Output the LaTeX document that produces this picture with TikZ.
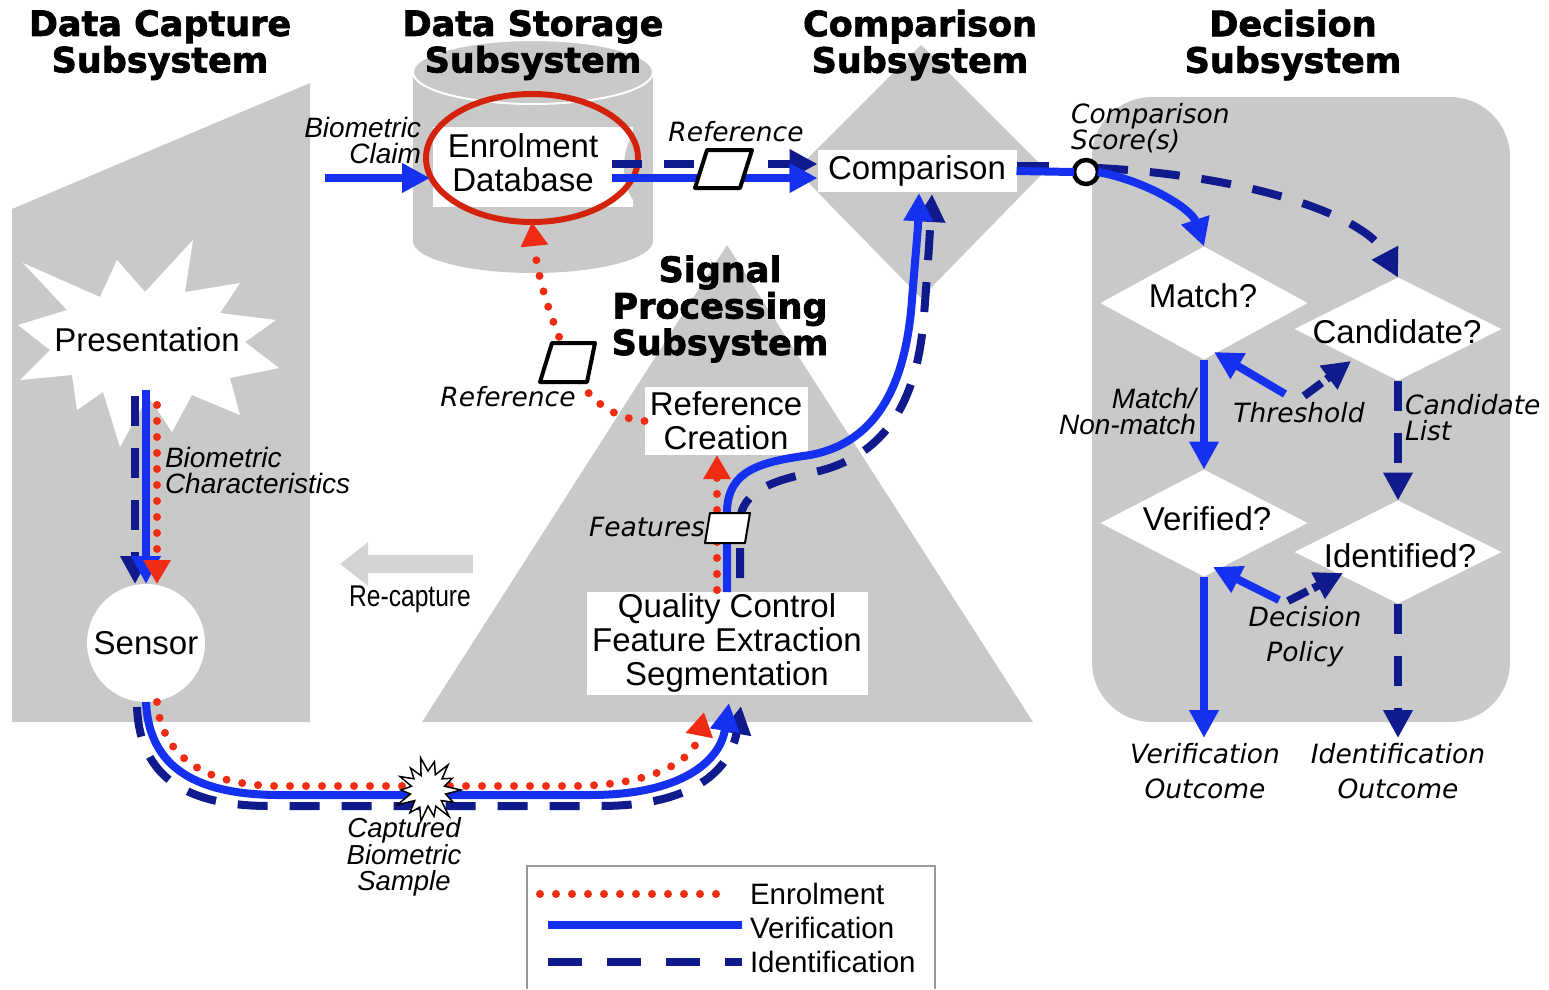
\documentclass[tikz,border=0pt]{standalone}
\usepackage{fontspec}
\setmainfont{Liberation Sans}
\newfontfamily\titlefont{DejaVu Sans}[BoldFeatures={FakeBold=2}]
\newfontfamily\vfont{DejaVu Sans}
\newfontfamily\narrowfont{Liberation Sans}[FakeStretch=0.82]
\usetikzlibrary{arrows.meta,shapes.geometric}
\definecolor{sgray}{RGB}{201,201,201}
\definecolor{vblue}{RGB}{22,48,240}
\definecolor{inavy}{RGB}{16,26,140}
\definecolor{ered}{RGB}{240,45,20}
\definecolor{dbred}{RGB}{212,35,12}
\definecolor{rcgray}{RGB}{212,212,212}
\begin{document}
\begin{tikzpicture}[x=1pt,y=-1pt,
  every node/.style={inner sep=0pt, outer sep=0pt},
  main/.style={font=\fontsize{33}{34}\selectfont, align=center},
  title/.style={font=\titlefont\bfseries\fontsize{35}{36.5}\selectfont, align=center},
  ilab/.style={font=\itshape\fontsize{28}{26}\selectfont},
  vlab/.style={font=\vfont\itshape\fontsize{26.5}{26}\selectfont},
  vlabb/.style={font=\vfont\itshape\fontsize{26.5}{35}\selectfont, align=center},
  capl/.style={font=\itshape\fontsize{27.5}{26.5}\selectfont, align=center},
  narrowl/.style={font=\narrowfont\fontsize{30}{30}\selectfont},
  legl/.style={font=\fontsize{29.5}{30}\selectfont},
  wbox/.style={main, fill=white},
  dmd/.style={diamond, fill=white, inner sep=0pt},
  ver/.style={draw=vblue, line width=8pt},
  ide/.style={draw=inavy, line width=8pt, dash pattern=on 30pt off 22pt},
  enr/.style={draw=ered, line width=8pt, line cap=round, dash pattern=on 0pt off 16pt},
  vtip/.style={-{Triangle[length=28pt,width=28pt]}},
  etip/.style={-{Triangle[length=24pt,width=26pt]}},
  para/.style={draw=black, fill=white, line width=4pt, line join=round},
]
\useasboundingbox (0,0) rectangle (1549,989);

% ---------- grey subsystem shapes ----------
\fill[sgray] (12,209) -- (310,83) -- (310,722) -- (12,722) -- cycle;
\fill[sgray] (413,72) rectangle (653,241);
\fill[sgray] (533,241) ellipse[x radius=120, y radius=32];
\filldraw[fill=sgray, draw=white, line width=2pt] (533,72) ellipse[x radius=120, y radius=32];
\fill[sgray] (921,45) -- (1046,170) -- (921,298) -- (796,170) -- cycle;
\fill[sgray] (727,245) -- (1033,722) -- (422,722) -- cycle;
\fill[sgray, rounded corners=60pt] (1092,97) rectangle (1510,722);

% database label area
\fill[white] (433,127) rectangle (633,207);
\begin{scope}
  \clip (433,127) rectangle (633,207);
  \fill[sgray] (648,167) ellipse[x radius=24, y radius=42];
\end{scope}

% presentation starburst
\fill[white] (23,263) -- (100,297) -- (117,260) -- (145,292) -- (193,240) -- (185,292)
  -- (240,283) -- (220,313) -- (276,320) -- (245,342) -- (279,368) -- (230,378)
  -- (240,415) -- (192,395) -- (172,432) -- (148,396) -- (120,447) -- (103,392)
  -- (77,410) -- (72,375) -- (20,380) -- (50,350) -- (18,325) -- (67,310) -- cycle;

% ---------- nodes ----------
\node[main] (pres) at (147,340) {Presentation};
\node[main, circle, fill=white, minimum size=118pt] (sensor) at (146,643) {Sensor};
\node[main] (db) at (523,163) {Enrolment\\Database};
\node[draw=dbred, line width=6pt, ellipse, minimum width=212pt, minimum height=128pt] (dbring) at (532,158) {};
\node[wbox, minimum width=199pt, minimum height=42pt] (cmp) at (917,171) {Comparison};
\node[wbox, minimum width=163pt, minimum height=68pt] (rc) at (726,421) {Reference\\Creation};
\node[wbox, minimum width=281pt, minimum height=103pt] (qc) at (727,643) {Quality Control\\Feature Extraction\\Segmentation};
\node[circle, draw=black, line width=4.5pt, fill=white, minimum size=24pt] (score) at (1086,172) {};

\node[dmd, minimum width=207pt, minimum height=113pt] (match) at (1204,303) {};
\node[dmd, minimum width=207pt, minimum height=103pt] (cand) at (1398,329) {};
\node[dmd, minimum width=207pt, minimum height=107pt] (verif) at (1204,523) {};
\node[dmd, minimum width=207pt, minimum height=103pt] (ident) at (1398,552) {};
\node[main] (matcht) at (1203,296) {Match?};
\node[main] (candt) at (1397,332) {Candidate?};
\node[main] (veriftt) at (1207,519) {Verified?};
\node[main] (identt) at (1400,556) {Identified?};

% titles
\node[title] (tcap) at (160,45) {Data Capture\\Subsystem};
\node[title] (tsto) at (533,45) {Data Storage\\Subsystem};
\node[title] (tcmp) at (920,45) {Comparison\\Subsystem};
\node[title] (tdec) at (1293,45) {Decision\\Subsystem};
\node[title] (tsig) at (720,309) {Signal\\Processing\\Subsystem};

% ---------- coordinates ----------
\coordinate (claimS) at (325,178);
\coordinate (claimE) at (430,178);
\coordinate (dbB) at (612,178);
\coordinate (dbI) at (612,164);
\coordinate (presI) at (135,396);
\coordinate (presV) at (146,390);
\coordinate (presE) at (157,405);
\coordinate (qcInE) at (704,712);
\coordinate (qcInB) at (729,703);
\coordinate (qcInI) at (741,706);
\coordinate (qcE) at (717,590);
\coordinate (qcV) at (727,592);
\coordinate (qcI) at (740,578);
\coordinate (cmpV) at (919,193);
\coordinate (cmpI) at (932,194);
\coordinate (thrB) at (1285,394);
\coordinate (thrBt) at (1214,352);
\coordinate (thrI) at (1304,396);
\coordinate (thrIt) at (1351,361);
\coordinate (polB) at (1279,600);
\coordinate (polBt) at (1213,567);
\coordinate (polI) at (1288,601);
\coordinate (polIt) at (1343,573);
\coordinate (vout) at (1204,738);
\coordinate (iout) at (1398,738);
\coordinate (recS) at (473,564);
\coordinate (recE) at (340,564);

% ---------- connectors ----------
% biometric claim
\draw[ver, vtip] (claimS) -- (claimE);
% database -> comparison
\draw[ide, vtip] (dbI) -- (dbI -| cmp.west);
\draw[ver, vtip] (dbB) -- (dbB -| cmp.west);
% comparison -> score
\draw[draw=inavy, line width=8pt] ([yshift=5pt]cmp.east) -- ([yshift=5pt, xshift=32pt]cmp.east);
\draw[ver] (cmp.east) -- (score.west);
% score -> decisions
\draw[ide, vtip] ([yshift=4pt]score.east) .. controls (1250,176) and (1365,215) .. (cand.north);
\draw[ver, vtip] (score.east) .. controls (1150,182) and (1192,210) .. (match.north);
% presentation -> sensor
\draw[ide, vtip] (presI) -- (presI |- sensor.north);
\draw[ver, vtip] (presV) -- (sensor.north);
\draw[enr, etip] (presE) -- (presE |- sensor.north);
% sensor -> signal processing (U)
\draw[ide, vtip] ([xshift=-9pt, yshift=-5pt]sensor.south) .. controls (140,780) and (190,806) .. (270,806)
  -- (600,806) .. controls (690,806) and (730,772) .. (qcInI);
\draw[ver, vtip] (sensor.south) .. controls (149,770) and (200,795) .. (280,795)
  -- (590,795) .. controls (680,795) and (720,762) .. (qcInB);
\draw[enr, etip] ([xshift=11pt]sensor.south) .. controls (162,760) and (210,786) .. (280,786)
  -- (570,786) .. controls (650,786) and (694,762) .. (qcInE);
% captured sample burst
\begin{scope}[shift={(428,790)}]
\draw[fill=white, draw=black, line width=1.5pt, line join=miter] (0:33)
  \foreach \i/\r in {1/18,2/28,3/17,4/34,5/18,6/27,7/16,8/32,9/19,10/29,11/17,12/34,13/18,14/27,15/17,16/31,17/18,18/28,19/16,20/33,21/19,22/29,23/17,24/32,25/18,26/27,27/17}
  { -- ({\i*360/28}:\r) } -- cycle;
\end{scope}
% quality control -> reference creation
\draw[enr, etip] (qcE) -- (rc.south -| qcE);
% quality control -> comparison
\draw[ide, vtip] (qcI) -- (740,520) .. controls (742,492) and (772,480) .. (815,472)
  .. controls (890,455) and (918,395) .. (924,315) .. controls (928,265) and (930,230) .. (cmpI);
\draw[ver, vtip] (qcV) -- (727,510) .. controls (729,470) and (760,462) .. (810,455)
  .. controls (880,442) and (906,380) .. (912,300) .. controls (915,260) and (918,230) .. (cmpV);
% reference creation -> database
\draw[enr, etip] (rc.west) .. controls (612,418) and (588,400) .. (572,368)
  .. controls (552,322) and (538,282) .. (dbring.south);
% decision subsystem
\draw[ver, vtip] (match.south) -- (verif.north);
\draw[ide, vtip] (cand.south) -- (ident.north);
\draw[ver, vtip] (verif.south) -- (vout);
\draw[ide, vtip] (ident.south) -- (iout);
\draw[ver, vtip] (thrB) -- (thrBt);
\draw[draw=inavy, line width=8pt, dash pattern=on 22pt off 6pt, vtip] (thrI) -- (thrIt);
\draw[ver, vtip] (polB) -- (polBt);
\draw[draw=inavy, line width=8pt, dash pattern=on 22pt off 6pt, vtip] (polI) -- (polIt);
% re-capture
\draw[rcgray, line width=18pt, -{Triangle[length=28pt,width=42pt]}] (recS) -- (recE);

% data symbols (parallelograms)
\begin{scope}[shift={(723.5,169)}]
\draw[para] (-16.5,-19) -- (28.5,-19) -- (16.5,19) -- (-28.5,19) -- cycle;
\end{scope}
\begin{scope}[shift={(568,362)}]
\draw[para] (-16,-19) -- (27,-19) -- (19,20) -- (-28,20) -- cycle;
\end{scope}
\begin{scope}[shift={(727,528)}]
\draw[para, line width=2pt] (-17,-15) -- (23,-15) -- (18,15) -- (-22,15) -- cycle;
\end{scope}

% ---------- labels ----------
\node[ilab, align=right, anchor=east] (lclaim) at (421,140) {Biometric\\Claim};
\node[vlab] (lref1) at (736,132) {Reference};
\node[vlab, align=left, anchor=west] (lscore) at (1071,128) {Comparison\\Score(s)};
\node[ilab, align=right, anchor=east] (lmatch) at (1196,411) {Match/\\Non-match};
\node[vlab] (lthr) at (1299,413) {Threshold};
\node[vlab, align=left, anchor=west] (lcand) at (1405,418) {Candidate\\List};
\node[vlabb] (ldec) at (1305,637) {Decision\\Policy};
\node[vlabb] (lvo) at (1205,771) {Verification\\Outcome};
\node[vlabb] (lio) at (1398,771) {Identification\\Outcome};
\node[ilab, align=left, anchor=west] (lchar) at (165,470) {Biometric\\Characteristics};
\node[vlab, anchor=east] (lfeat) at (705,527) {Features};
\node[vlab] (lref2) at (508,397) {Reference};
\node[capl] (lcap) at (404,857) {Captured\\Biometric\\Sample};
\node[narrowl] (lrec) at (410,599) {Re-capture};

% ---------- legend ----------
\draw[draw=gray!80, line width=1.5pt] (527,989) -- (527,866) -- (935,866) -- (935,989);
\coordinate (le1) at (540,894);
\coordinate (le2) at (730,894);
\coordinate (lv1) at (548,925);
\coordinate (lv2) at (742,925);
\coordinate (li1) at (548,962);
\coordinate (li2) at (742,962);
\draw[enr] (le1) -- (le2);
\draw[ver] (lv1) -- (lv2);
\draw[draw=inavy, line width=8pt, dash pattern=on 34pt off 25pt] (li1) -- (li2);
\node[legl, anchor=west] (lgE) at (750,894) {Enrolment};
\node[legl, anchor=west] (lgV) at (750,928) {Verification};
\node[legl, anchor=west] (lgI) at (750,962) {Identification};
\end{tikzpicture}
\end{document}
